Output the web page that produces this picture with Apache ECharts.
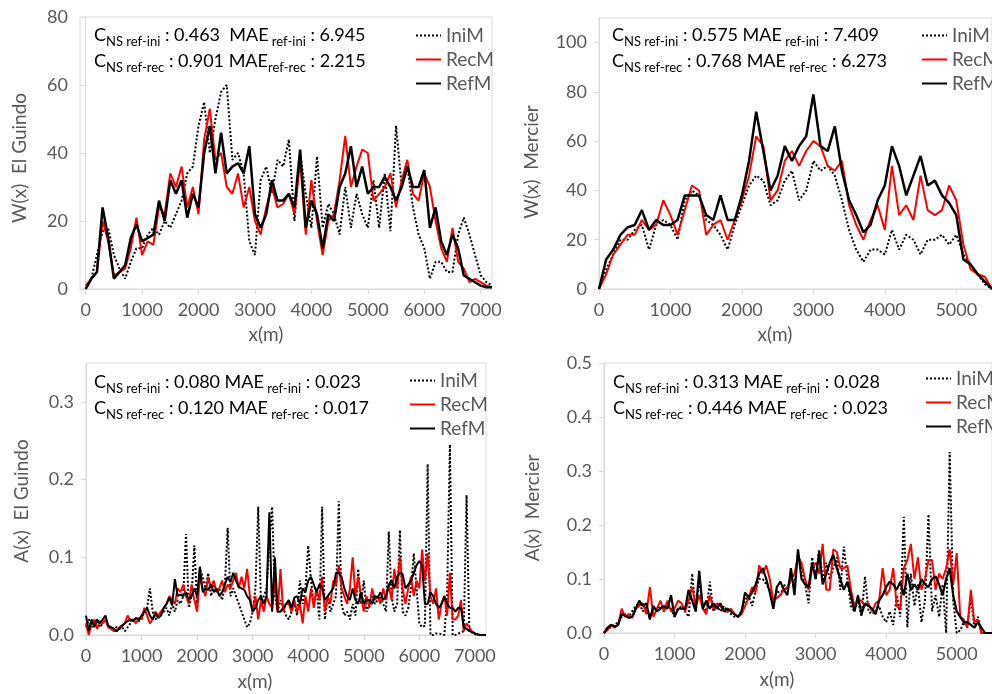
<!DOCTYPE html>
<html>
<head>
<meta charset="utf-8">
<title>W(x) / A(x) - El Guindo, Mercier</title>
<script src="https://cdn.jsdelivr.net/npm/echarts@6.0.0/dist/echarts.min.js"></script>
<style>
  html, body { margin: 0; padding: 0; background: #fff; }
  #main { width: 992px; height: 694px; }
</style>
</head>
<body>
<div id="main"></div>
<script>
// ---- El Guindo, W(x), every 100 m ----
const xGuindoW = [];
for (let x = 0; x <= 7200; x += 100) xGuindoW.push(x);
const guindoW_IniM = [0,3,10,17,18,10,6,3,8,12,12,16,18,16,20,18,22,26,34,36,48,55,40,50,58,60,38,40,34,14,10,32,36,28,38,36,44,20,40,28,18,39,18,25,22,16,30,18,28,22,18,32,18,34,17,48,30,36,24,16,12,3,8,8,5,5,16,21,16,10,4,2,1];
const guindoW_RecM = [1,3,5,20,14,4,5,6,12,21,10,14,13,24,22,34,30,36,24,30,22,44,53,38,40,30,28,34,24,30,20,16,24,30,24,25,28,22,38,16,32,20,10,20,22,32,45,30,36,41,40,26,28,30,34,24,32,38,28,26,34,30,20,12,8,18,8,6,2,3,2,1,0.5];
const guindoW_RefM = [0,3,5,24,15,3,5,7,15,19,14,15,16,26,20,32,28,32,21,28,24,40,48,34,46,34,36,37,34,42,22,18,22,32,26,26,28,24,41,18,26,22,12,22,20,30,34,42,30,36,28,30,30,33,30,26,30,36,30,30,35,18,24,14,10,16,12,4,3,2,1,0.5,0.5];

// ---- Mercier, W(x), every 100 m ----
const xMercierW = [];
for (let x = 0; x <= 5500; x += 100) xMercierW.push(x);
const mercierW_IniM = [0,8,14,20,20,24,26,16,26,28,26,20,36,40,38,28,26,22,16,26,34,42,46,44,34,36,44,48,36,40,52,48,50,46,36,24,16,11,16,16,14,24,16,22,20,14,20,20,22,18,22,14,10,6,2,0];
const mercierW_RecM = [0,6,14,18,22,22,28,24,26,36,30,22,32,42,40,22,26,28,20,28,36,46,62,58,36,40,52,56,50,56,60,58,50,48,52,34,26,20,28,34,24,50,30,34,28,46,32,30,32,42,36,18,8,6,5,0];
const mercierW_RefM = [0,12,16,22,25,26,32,24,28,26,26,28,38,38,38,30,28,38,28,28,38,52,72,56,40,46,58,52,58,62,79,58,56,66,48,36,30,23,26,36,42,58,50,38,46,54,42,44,38,35,30,12,10,6,3,0];

// ---- El Guindo, A(x), every 50 m ----
const xGuindoA = [];
for (let x = 0; x <= 7200; x += 50) xGuindoA.push(x);
const guindoA_IniM = [
  .01,.02,.01,.015,.02,.01,.015,.02,.01,.01,
  .008,.01,.008,.01,.005,.01,.015,.02,.02,.018,
  .02,.03,.035,.06,.03,.02,.025,.03,.03,.035,
  .025,.04,.03,.045,.04,.05,.13,.035,.05,.115,
  .04,.085,.075,.06,.08,.05,.065,.055,.06,.045,
  .065,.138,.05,.06,.05,.04,.03,.02,.01,.015,
  .03,.06,.165,.04,.05,.06,.12,.165,.05,.03,
  .045,.035,.025,.02,.03,.04,.025,.07,.04,.06,
  .115,.07,.04,.06,.02,.165,.02,.05,.03,.04,
  .05,.172,.04,.025,.03,.02,.04,.025,.085,.04,
  .07,.03,.04,.05,.04,.045,.05,.04,.03,.133,
  .05,.03,.04,.135,.03,.025,.035,.06,.105,.06,
  .015,.01,.012,.22,0,0,.002,.002,.001,0,
  .05,.245,0,0,.002,.003,.005,.18,.005,.003,
  .001,0,0,0,0];
const guindoA_RecM = [
  .015,0,.015,.02,.008,.018,.015,.02,.01,.008,
  .005,.005,.01,.012,.015,.025,.018,.02,.015,.022,
  .02,.035,.025,.015,.02,.03,.025,.03,.035,.04,
  .05,.045,.04,.06,.055,.065,.05,.04,.065,.045,
  .03,.075,.06,.05,.075,.06,.07,.055,.06,.07,
  .055,.065,.06,.07,.08,.06,.075,.06,.085,.05,
  .03,.05,.02,.045,.03,.05,.04,.035,.07,.03,
  .085,.03,.04,.04,.03,.045,.03,.04,.015,.05,
  .03,.06,.035,.06,.045,.075,.03,.05,.04,.07,
  .065,.09,.06,.05,.04,.06,.1,.05,.075,.05,
  .03,.05,.035,.06,.045,.05,.04,.06,.045,.065,
  .045,.085,.06,.1,.06,.04,.06,.075,.05,.07,
  .06,.11,.07,.105,.05,.04,.06,.02,.04,.05,
  .025,.08,.02,.02,.025,.045,.005,.015,.01,.004,
  .002,0,0,0,0];
const guindoA_RefM = [
  .025,.005,.02,.01,.02,.015,.02,.025,.012,.01,
  .008,.005,.008,.012,.015,.018,.02,.018,.022,.02,
  .025,.03,.035,.025,.02,.028,.022,.025,.035,.04,
  .048,.038,.072,.05,.052,.05,.055,.045,.05,.06,
  .05,.088,.055,.06,.058,.065,.055,.06,.05,.055,
  .065,.075,.068,.08,.07,.062,.06,.058,.05,.045,
  .03,.035,.045,.05,.04,.05,.158,.03,.1,.03,
  .03,.035,.04,.045,.035,.048,.05,.04,.06,.055,
  .07,.075,.065,.055,.065,.06,.045,.05,.055,.06,
  .08,.08,.075,.06,.05,.045,.06,.045,.04,.055,
  .04,.045,.045,.04,.05,.048,.055,.045,.05,.065,
  .07,.06,.075,.08,.078,.06,.065,.07,.08,.09,
  .095,.09,.04,.04,.055,.05,.04,.035,.04,.05,
  .04,.035,.035,.03,.035,.035,.01,.008,.005,.004,
  .002,.001,0,0,0];

// ---- Mercier, A(x), every 50 m ----
const xMercierA = [];
for (let x = 0; x <= 5500; x += 50) xMercierA.push(x);
const mercierA_IniM = [
  0,.01,.01,.015,.02,.03,.035,.03,.04,.05,
  .055,.04,.05,.03,.045,.045,.05,.04,.05,.045,
  .03,.045,.05,.04,.03,.11,.04,.1,.05,.04,
  .095,.04,.05,.04,.05,.04,.035,.03,.03,.04,
  .06,.07,.05,.08,.1,.1,.09,.08,.05,.08,
  .07,.09,.08,.1,.09,.15,.12,.09,.055,.14,
  .1,.155,.1,.13,.1,.12,.14,.08,.16,.1,
  .05,.04,.06,.03,.105,.04,.035,.04,.05,.03,
  .02,.04,.015,.07,.03,.215,.01,.11,.05,.09,
  .02,.06,.22,.04,.07,.03,.09,0,.335,.06,
  0,.005,.02,.01,.065,.01,.03,0,0,0,
  0];
const mercierA_RecM = [
  0,.005,.015,.01,.015,.045,.03,.035,.028,.045,
  .05,.055,.035,.085,.03,.045,.06,.04,.06,.04,
  .045,.06,.055,.04,.06,.085,.05,.07,.045,.035,
  .07,.045,.055,.05,.04,.04,.045,.035,.03,.035,
  .05,.065,.085,.075,.125,.11,.125,.1,.06,.065,
  .07,.08,.085,.1,.11,.14,.13,.1,.08,.12,
  .13,.11,.165,.08,.08,.155,.15,.12,.12,.125,
  .08,.05,.06,.06,.05,.055,.04,.055,.06,.12,
  .07,.08,.12,.05,.045,.12,.135,.165,.1,.14,
  .08,.1,.135,.135,.08,.11,.1,.12,.155,.09,
  .148,.03,.025,.01,.08,.02,.025,0,0,0,
  0];
const mercierA_RefM = [
  0,.01,.015,.012,.015,.035,.032,.028,.03,.045,
  .06,.05,.055,.025,.05,.04,.045,.05,.045,.07,
  .03,.045,.045,.045,.08,.06,.04,.115,.045,.06,
  .045,.055,.045,.055,.04,.045,.04,.035,.03,.04,
  .075,.065,.075,.09,.11,.12,.1,.075,.045,.085,
  .095,.08,.07,.12,.07,.155,.1,.09,.085,.13,
  .1,.15,.09,.11,.13,.145,.12,.1,.08,.095,
  .07,.04,.07,.035,.055,.05,.045,.035,.06,.07,
  .085,.095,.09,.08,.095,.07,.11,.08,.09,.08,
  .1,.09,.085,.1,.105,.09,.07,.1,.12,.07,
  .04,.03,.02,.02,.015,.01,.02,.01,0,0,
  0];

const ticksGuindo = [0,1000,2000,3000,4000,5000,6000,7000];
const ticksMercier = [0,1000,2000,3000,4000,5000];
const ticksW80 = [0,20,40,60,80];
const ticksW100 = [0,20,40,60,80,100];
const ticksA03 = [0,0.1,0.2,0.3];
const ticksA05 = [0,0.1,0.2,0.3,0.4,0.5];

const FONT = 'Lato, "Open Sans", sans-serif';
const GRAY = '#595959';
const AXIS = '#d9d9d9';

const chart = echarts.init(document.getElementById('main'));

function pairs(xs, ys) { return xs.map((x, i) => [x, ys[i]]); }

function xAxisOf(idx, min, max, ticks) {
  return {
    type: 'value', gridIndex: idx, min: min, max: max,
    axisLine: { show: true, lineStyle: { color: AXIS } },
    axisTick: { show: true, customValues: ticks, length: 5, lineStyle: { color: AXIS } },
    axisLabel: { customValues: ticks, margin: 12, color: GRAY, fontSize: 18, fontFamily: FONT,
      formatter: v => String(v) },
    splitLine: { show: false }
  };
}
function yAxisOf(idx, max, ticks, digits) {
  return {
    type: 'value', gridIndex: idx, min: 0, max: max,
    axisLine: { show: true, lineStyle: { color: AXIS } },
    axisTick: { show: true, customValues: ticks, length: 5, lineStyle: { color: AXIS } },
    axisLabel: {
      customValues: ticks, margin: 12, color: GRAY, fontSize: 18, fontFamily: FONT,
      formatter: v => digits ? v.toFixed(digits) : String(v)
    },
    splitLine: { show: false }
  };
}
function seriesOf(idx, xs, ini, rec, ref, w) {
  return [
    { name: 'IniM', type: 'line', xAxisIndex: idx, yAxisIndex: idx, data: pairs(xs, ini),
      symbol: 'none', animation: false, itemStyle: { color: '#000' },
      lineStyle: { color: '#000', width: w.ini, type: 'dotted' } },
    { name: 'RecM', type: 'line', xAxisIndex: idx, yAxisIndex: idx, data: pairs(xs, rec),
      symbol: 'none', animation: false, itemStyle: { color: '#ff0000' },
      lineStyle: { color: '#ff0000', width: w.rec } },
    { name: 'RefM', type: 'line', xAxisIndex: idx, yAxisIndex: idx, data: pairs(xs, ref),
      symbol: 'none', animation: false, itemStyle: { color: '#000' },
      lineStyle: { color: '#000', width: w.ref } }
  ];
}
function legendAt(left, top) {
  return {
    orient: 'vertical', left: left, top: top, selectedMode: false,
    data: ['IniM', 'RecM', 'RefM'], itemWidth: 25, itemHeight: 14, itemGap: 5,
    itemStyle: { opacity: 0 },
    textStyle: { color: GRAY, fontSize: 19, fontFamily: FONT, lineHeight: 19 }
  };
}

const rich = {
  m: { fontSize: 18, fontFamily: FONT, color: '#000', lineHeight: 26 },
  s: { fontSize: 13, fontFamily: FONT, color: '#000', lineHeight: 13, verticalAlign: 'bottom' }
};
function note(x, y, lines) {
  return { type: 'text', x: x, y: y, silent: true, style: { text: lines.join('\n'), rich: rich, verticalAlign: 'top' } };
}
function axisName(x, y, text, vertical) {
  return {
    type: 'text', x: x, y: y, rotation: vertical ? Math.PI / 2 : 0, silent: true,
    style: { text: text, fill: GRAY, fontSize: 19, fontFamily: FONT, align: 'center', verticalAlign: 'middle' }
  };
}

chart.setOption({
  backgroundColor: '#fff',
  animation: false,
  grid: [
    { left: 80, top: 17, width: 412, height: 272, show: true, borderColor: AXIS, borderWidth: 1 },
    { left: 599, top: 18, width: 396, height: 271, show: true, borderColor: AXIS, borderWidth: 1 },
    { left: 86, top: 363, width: 400, height: 272, show: true, borderColor: AXIS, borderWidth: 1 },
    { left: 604, top: 363, width: 392, height: 270, show: true, borderColor: AXIS, borderWidth: 1 }
  ],
  xAxis: [
    xAxisOf(0, -100, 7200, ticksGuindo),
    xAxisOf(1, 0, 5500, ticksMercier),
    xAxisOf(2, 0, 7200, ticksGuindo),
    xAxisOf(3, 0, 5500, ticksMercier)
  ],
  yAxis: [
    yAxisOf(0, 80, ticksW80, 0),
    yAxisOf(1, 110, ticksW100, 0),
    yAxisOf(2, 0.35, ticksA03, 1),
    yAxisOf(3, 0.5, ticksA05, 1)
  ],
  legend: [legendAt(410, 21), legendAt(916, 21), legendAt(404, 366), legendAt(920, 364)],
  series: [].concat(
    seriesOf(0, xGuindoW, guindoW_IniM, guindoW_RecM, guindoW_RefM, { ini: 2, rec: 2, ref: 2.5 }),
    seriesOf(1, xMercierW, mercierW_IniM, mercierW_RecM, mercierW_RefM, { ini: 2, rec: 2, ref: 2.5 }),
    seriesOf(2, xGuindoA, guindoA_IniM, guindoA_RecM, guindoA_RefM, { ini: 2, rec: 2, ref: 2 }),
    seriesOf(3, xMercierA, mercierA_IniM, mercierA_RecM, mercierA_RefM, { ini: 2, rec: 2, ref: 2.2 })
  ),
  graphic: [
    note(94, 22, [
      '{m|C}{s|NS ref-ini}{m| : 0.463  MAE}{s| ref-ini}{m| : 6.945}',
      '{m|C}{s|NS ref-rec}{m| : 0.901 MAE}{s|ref-rec}{m| : 2.215}'
    ]),
    note(612, 22, [
      '{m|C}{s|NS ref-ini}{m| : 0.575 MAE}{s| ref-ini}{m| : 7.409}',
      '{m|C}{s|NS ref-rec}{m| : 0.768 MAE}{s| ref-rec}{m| : 6.273}'
    ]),
    note(94, 369, [
      '{m|C}{s|NS ref-ini}{m| : 0.080 MAE}{s| ref-ini}{m| : 0.023}',
      '{m|C}{s|NS ref-rec}{m| : 0.120 MAE}{s| ref-rec}{m| : 0.017}'
    ]),
    note(613, 369, [
      '{m|C}{s|NS ref-ini}{m| : 0.313 MAE}{s| ref-ini}{m| : 0.028}',
      '{m|C}{s|NS ref-rec}{m| : 0.446 MAE}{s| ref-rec}{m| : 0.023}'
    ]),
    axisName(20, 158, 'W(x)  El Guindo', true),
    axisName(532, 162, 'W(x)  Mercier', true),
    axisName(22, 501, 'A(x)  El Guindo', true),
    axisName(533, 508, 'A(x)  Mercier', true),
    axisName(266, 335, 'x(m)', false),
    axisName(775, 335, 'x(m)', false),
    axisName(255, 682, 'x(m)', false),
    axisName(777, 680, 'x(m)', false)
  ]
});
</script>
</body>
</html>
